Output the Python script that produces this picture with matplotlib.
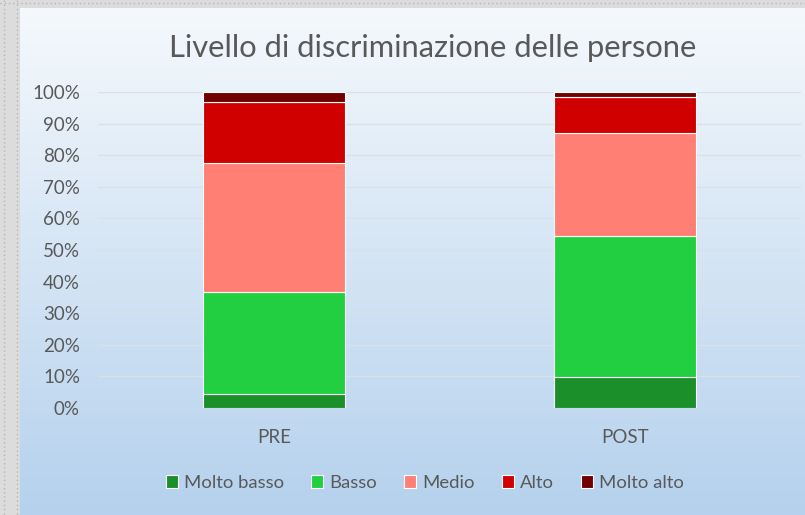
import numpy as np
import matplotlib
matplotlib.use("Agg")
import matplotlib.pyplot as plt

# Data (shares, in %)
categories = ["PRE", "POST"]
levels = ["Molto basso", "Basso", "Medio", "Alto", "Molto alto"]
molto_basso = [4.5, 9.9]
basso = [32.2, 44.5]
medio = [40.9, 32.7]
alto = [19.3, 11.4]
molto_alto = [3.1, 1.5]
colors = ["#1a8f2a", "#22cf40", "#ff7f74", "#d10000", "#700000"]

plt.rcParams['font.family'] = ['Lato', 'DejaVu Sans']
text_col = "#595959"

fig = plt.figure(figsize=(8.05, 5.15), dpi=100)

# background: gray frame + blue gradient
bg = fig.add_axes([0, 0, 1, 1])
bg.set_xlim(0, 805)
bg.set_ylim(515, 0)
bg.axis("off")
bg.add_patch(plt.Rectangle((0, 0), 805, 515, color="#dcdcdc", zorder=0))
for x in [4, 17]:
    bg.plot([x, x], [0, 515], color="#b5b5b5", lw=1, ls=(0, (1, 2)), zorder=1)
bg.plot([0, 805], [3, 3], color="#b5b5b5", lw=1, ls=(0, (1, 2)), zorder=1)
grad = np.linspace(0, 1, 256).reshape(-1, 1)
top = np.array([0.96, 0.975, 0.99])
bottom = np.array([0.71, 0.82, 0.93])
img = top + (bottom - top) * grad[:, :, None]
bg.imshow(img, extent=[20, 805, 515, 8], aspect="auto", zorder=2)

ax = fig.add_axes([98/805, 1 - 408/515, 703/805, 316/515])
ax.patch.set_alpha(0)

series = [molto_basso, basso, medio, alto, molto_alto]
x = np.arange(len(categories))
bottoms = np.zeros(len(categories))
for vals, lab, c in zip(series, levels, colors):
    v = np.array(vals) / 100
    ax.bar(x, v, bottom=bottoms, width=0.405, color=c, edgecolor="white",
           linewidth=0.8, label=lab, zorder=3)
    bottoms += v

ax.set_xlim(-0.5, 1.5)
ax.set_ylim(0, 1)
ax.set_yticks(np.arange(0, 1.01, 0.1))
ax.set_yticklabels([f"{int(round(t*100))}%" for t in np.arange(0, 1.01, 0.1)])
ax.set_xticks(x)
ax.set_xticklabels(categories)
ax.tick_params(axis="y", length=0, pad=13, labelsize=13.5, labelcolor=text_col)
ax.tick_params(axis="x", length=0, pad=15, labelsize=13.5, labelcolor=text_col)
ax.grid(axis="y", color="#d8e0e9", lw=1, zorder=1)
for s in ax.spines.values():
    s.set_visible(False)

fig.text(433/805, 1 - 48/515, "Livello di discriminazione delle persone",
         ha="center", va="center", fontsize=22.2, color=text_col)

fig.legend(loc="center", bbox_to_anchor=(425/805, 1 - 483/515), ncol=5,
           frameon=False, fontsize=13.3, labelcolor=text_col, handlelength=0.65,
           handleheight=0.65, handletextpad=0.3, columnspacing=1.5)

fig.savefig("out.png", dpi=100)
